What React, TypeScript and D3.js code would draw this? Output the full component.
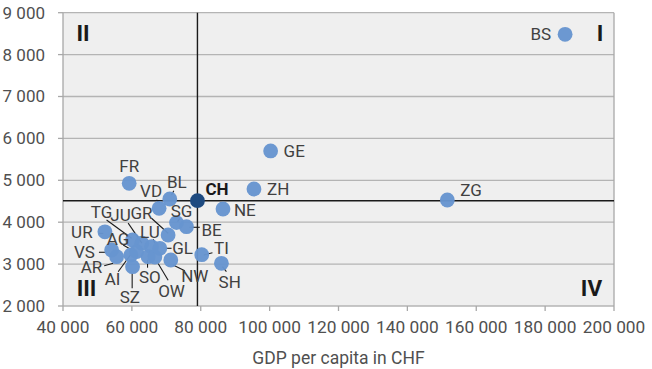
import React from "react";
import * as d3 from "d3";

// GDP per capita (CHF) and second measure, by canton
const cantons = ["BS","ZG","GE","ZH","NE","BE","FR","BL","VD","SG","GR","TG","JU","LU","UR","AG","VS","AR","AI","SZ","SO","OW","NW","GL","TI","SH"];
const gdpValues = [185800,151600,100290,95450,86460,75860,59220,71010,67910,72960,70520,60200,62900,65710,52170,61360,54120,55570,59710,60200,64720,66670,71300,68120,80290,86000];
const yValues = [8485,4530,5700,4792,4315,3893,4928,4554,4332,3990,3695,3575,3500,3415,3770,3296,3337,3177,3217,2938,3177,3170,3098,3377,3224,3019];
const chName = "CH";
const chGdp = 79040;
const chY = 4513;

const xTicks = [40000,60000,80000,100000,120000,140000,160000,180000,200000];
const yTicks = [2000,3000,4000,5000,6000,7000,8000,9000];
const quadrantLabels = ["I","II","III","IV"];
const xTitle = "GDP per capita in CHF";

// label layout relative to the point (pixels): offset, anchor, optional leader segment
type Lay = { dx: number; dy: number; a: "start" | "middle" | "end"; l?: [number, number, number, number] };
const layout: Record<string, Lay> = {
  BS: { dx: -14, dy: 0, a: "end" },
  ZG: { dx: 13, dy: -10, a: "start" },
  GE: { dx: 13, dy: 0, a: "start" },
  ZH: { dx: 13, dy: 0, a: "start" },
  NE: { dx: 11, dy: 1, a: "start" },
  BE: { dx: 15, dy: 3, a: "start", l: [3, 0.6, 13.3, 0.6] },
  FR: { dx: 0, dy: -17, a: "middle" },
  BL: { dx: 7, dy: -17, a: "middle", l: [1.7, -4, 4, -8.3] },
  VD: { dx: -8, dy: -17, a: "middle", l: [-2.6, -8.3, 0.7, -6] },
  SG: { dx: 5, dy: -12, a: "middle", l: [3.3, -4, 1, -1] },
  GR: { dx: -26.6, dy: -21.7, a: "middle", l: [-16.6, -16.7, 0, -1.7] },
  TG: { dx: -31, dy: -28.3, a: "middle", l: [-26, -20, -1, -1.7] },
  JU: { dx: -21.3, dy: -28.3, a: "middle", l: [-13.7, -20, 0, 0] },
  LU: { dx: -1.7, dy: -15, a: "middle", l: [1.6, -7.4, 3.3, -3.4] },
  UR: { dx: -12.3, dy: 0.6, a: "end", l: [-6, 1.6, -1.7, 1.6] },
  AG: { dx: -18.4, dy: -12.4, a: "middle", l: [-13.4, -6.7, -1.7, 0] },
  VS: { dx: -16.7, dy: 1.8, a: "end", l: [-12.7, 2.3, -5, 2.3] },
  AR: { dx: -14.4, dy: 10, a: "end", l: [-12.4, 9, -3.4, 6.6] },
  AI: { dx: -18.3, dy: 24.3, a: "middle", l: [-12.7, 16.7, 0.7, -1.7] },
  SZ: { dx: -2.7, dy: 30, a: "middle", l: [-0.4, 21.6, -0.4, 6.6] },
  SO: { dx: 1.7, dy: 20, a: "middle", l: [-0.6, 11, -0.6, 3.3] },
  OW: { dx: 16.7, dy: 34.3, a: "middle", l: [13.3, 23.3, 3.3, 6.6] },
  NW: { dx: 24, dy: 16, a: "middle", l: [14, 10.7, 2.3, 5] },
  GL: { dx: 22.7, dy: 0, a: "middle", l: [11.7, 0, 5.7, 0] },
  TI: { dx: 19.7, dy: -6.4, a: "middle", l: [2, 0.3, 10.7, -2] },
  SH: { dx: 8.3, dy: 18.4, a: "middle", l: [1, 3.4, 5, 8.4] },
};

const W = 652, H = 369;
const M = { left: 63, right: 614, top: 12.7, bottom: 306 };
const FONT = "Roboto, 'Noto Sans', sans-serif";

export default function App() {
  const x = d3.scaleLinear().domain([40000, 200000]).range([M.left, M.right]);
  const y = d3.scaleLinear().domain([2000, 9000]).range([M.bottom, M.top]);
  const fmt = (v: number) => d3.format(",")(v).replace(/,/g, " ");
  const cx = x(chGdp), cy = y(chY);
  const pts = cantons.map((c, i) => ({ c, px: x(gdpValues[i]), py: y(yValues[i]) }));

  return (
    <svg width={W} height={H} style={{ position: "absolute", left: 0, top: 0, background: "#fff" }} fontFamily={FONT}>
      <rect x={M.left} y={M.top} width={M.right - M.left} height={M.bottom - M.top} fill="#efefef" />
      {yTicks.map((t) => (
        <line key={"g" + t} x1={M.left} x2={M.right} y1={y(t)} y2={y(t)} stroke="#b4b4b4" strokeWidth={1.3} />
      ))}
      <line x1={M.left} x2={M.left} y1={M.top} y2={M.bottom} stroke="#a8a8a8" strokeWidth={1.3} />
      <line x1={M.right} x2={M.right} y1={M.top} y2={M.bottom} stroke="#a8a8a8" strokeWidth={1.3} />
      {yTicks.map((t) => (
        <g key={"y" + t}>
          <line x1={M.left - 5} x2={M.left} y1={y(t)} y2={y(t)} stroke="#a8a8a8" strokeWidth={1.3} />
          <text x={45} y={y(t)} dy="0.35em" textAnchor="end" fontSize={17} fill="#505050">{fmt(t)}</text>
        </g>
      ))}
      {xTicks.map((t) => (
        <g key={"x" + t}>
          <line x1={x(t)} x2={x(t)} y1={M.bottom} y2={M.bottom + 5} stroke="#a8a8a8" strokeWidth={1.3} />
          <text x={x(t)} y={333.3} textAnchor="middle" fontSize={17.3} fill="#505050">{fmt(t)}</text>
        </g>
      ))}
      <text x={(M.left + M.right) / 2} y={363.7} textAnchor="middle" fontSize={17.5} fill="#505050">{xTitle}</text>

      {/* crosshair through CH */}
      <line x1={cx} x2={cx} y1={M.top} y2={M.bottom} stroke="#1a1a1a" strokeWidth={1.4} />
      <line x1={M.left} x2={M.right} y1={cy} y2={cy} stroke="#1a1a1a" strokeWidth={1.4} />

      {/* quadrant labels */}
      <text x={600} y={33} dy="0.35em" textAnchor="middle" fontSize={22.5} fontWeight="bold" fill="#1a1a1a">{quadrantLabels[0]}</text>
      <text x={83} y={33} dy="0.35em" textAnchor="middle" fontSize={22.5} fontWeight="bold" fill="#1a1a1a">{quadrantLabels[1]}</text>
      <text x={86.5} y={288} dy="0.35em" textAnchor="middle" fontSize={22.5} fontWeight="bold" fill="#1a1a1a">{quadrantLabels[2]}</text>
      <text x={591.5} y={288} dy="0.35em" textAnchor="middle" fontSize={22.5} fontWeight="bold" fill="#1a1a1a">{quadrantLabels[3]}</text>

      {/* leader lines */}
      {pts.map(({ c, px, py }) => {
        const L = layout[c];
        if (!L || !L.l) return null;
        return <line key={"l" + c} x1={px + L.l[0]} y1={py + L.l[1]} x2={px + L.l[2]} y2={py + L.l[3]} stroke="#1a1a1a" strokeWidth={1.1} />;
      })}
      {/* points */}
      {pts.map(({ c, px, py }) => (
        <circle key={"p" + c} cx={px} cy={py} r={7.4} fill="#6795d0" fillOpacity={0.97} />
      ))}
      <circle cx={cx} cy={cy} r={7.4} fill="#1d4a80" />
      {/* labels */}
      {pts.map(({ c, px, py }) => {
        const L = layout[c];
        return (
          <text key={"t" + c} x={px + L.dx} y={py + L.dy} dy="0.35em" textAnchor={L.a} fontSize={17} fill="#404040">{c}</text>
        );
      })}
      <text x={cx + 8} y={cy - 12} dy="0.35em" fontSize={17} fontWeight="bold" fill="#1a1a1a">{chName}</text>
    </svg>
  );
}
